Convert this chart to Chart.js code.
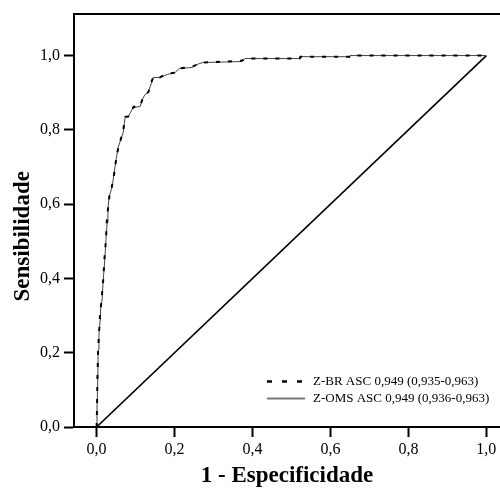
<!DOCTYPE html>
<html>
<head>
<meta charset="utf-8">
<script src="https://cdn.jsdelivr.net/npm/chart.js@4/dist/chart.umd.min.js"></script>
<style>
  html, body { margin: 0; padding: 0; background: #fff; }
  #wrap { width: 500px; height: 490px; }
</style>
</head>
<body>
<div id="wrap"><canvas id="c" width="500" height="490"></canvas></div>
<script>
// ---- data ----
const xTicks = [0, 0.2, 0.4, 0.6, 0.8, 1.0];
const xTickLabels = ['0,0', '0,2', '0,4', '0,6', '0,8', '1,0'];
const yTicks = [0, 0.2, 0.4, 0.6, 0.8, 1.0];
const yTickLabels = ['0,0', '0,2', '0,4', '0,6', '0,8', '1,0'];

const xTitle = '1 - Especificidade';
const yTitle = 'Sensibilidade';

const brLabel = 'Z-BR ASC 0,949 (0,935-0,963)';
const omsLabel = 'Z-OMS ASC 0,949 (0,936-0,963)';

// Z-OMS ROC (1 - specificity, sensitivity)
const omsFpr = [0, 0.001, 0.003, 0.004, 0.006, 0.009, 0.010, 0.014, 0.017, 0.021, 0.024, 0.027, 0.029, 0.032, 0.040, 0.045, 0.050, 0.055, 0.068, 0.073, 0.081, 0.094, 0.112, 0.117, 0.124, 0.132, 0.142, 0.145, 0.163, 0.181, 0.201, 0.212, 0.245, 0.258, 0.271, 0.373, 0.381, 0.522, 0.522, 0.650, 0.650, 1.0];
const omsTpr = [0, 0.046, 0.127, 0.208, 0.248, 0.288, 0.315, 0.342, 0.396, 0.450, 0.504, 0.550, 0.585, 0.620, 0.647, 0.685, 0.720, 0.752, 0.792, 0.833, 0.836, 0.860, 0.863, 0.881, 0.895, 0.900, 0.930, 0.941, 0.941, 0.949, 0.954, 0.965, 0.968, 0.976, 0.981, 0.984, 0.992, 0.992, 0.997, 0.997, 1.0, 1.0];

// Z-BR ROC
const brFpr = [0, 0.001, 0.002, 0.004, 0.006, 0.008, 0.010, 0.013, 0.017, 0.020, 0.024, 0.026, 0.029, 0.033, 0.039, 0.046, 0.050, 0.056, 0.067, 0.074, 0.081, 0.095, 0.111, 0.118, 0.124, 0.133, 0.141, 0.146, 0.162, 0.180, 0.202, 0.212, 0.244, 0.259, 0.270, 0.372, 0.382, 0.521, 0.523, 0.649, 0.651, 1.0];
const brTpr = [0, 0.046, 0.127, 0.210, 0.248, 0.290, 0.315, 0.345, 0.396, 0.452, 0.504, 0.552, 0.585, 0.622, 0.647, 0.687, 0.720, 0.754, 0.792, 0.835, 0.836, 0.862, 0.863, 0.883, 0.895, 0.902, 0.930, 0.943, 0.941, 0.951, 0.954, 0.965, 0.970, 0.976, 0.981, 0.986, 0.992, 0.992, 0.997, 0.997, 1.0, 1.0];

// reference (chance) diagonal
const diagX = [0, 1];
const diagY = [0, 1];

const xMin = -0.058, xMax = 1.035;
const yMin = 0, yMax = 1.113;

// ---- build ----
const toPts = (xs, ys) => xs.map((x, i) => ({x: x, y: ys[i]}));
const SERIF = '"Liberation Serif", "Times New Roman", serif';

const legendInside = {
  id: 'legendInside',
  afterDraw(chart) {
    const ctx = chart.ctx;
    const area = chart.chartArea;
    const x0 = area.left + 193, y0 = area.top + 368, rowH = 17;
    let row = 0;
    chart.data.datasets.forEach((ds) => {
      if (!ds.label) return;
      const y = y0 + row * rowH;
      ctx.save();
      ctx.strokeStyle = ds.legendColor || ds.borderColor;
      ctx.lineWidth = ds.legendWidth || ds.borderWidth;
      ctx.setLineDash(ds.legendDash || []);
      ctx.beginPath();
      ctx.moveTo(x0, y);
      ctx.lineTo(x0 + 38, y);
      ctx.stroke();
      ctx.setLineDash([]);
      ctx.fillStyle = '#000';
      ctx.font = '13px ' + SERIF;
      ctx.textBaseline = 'middle';
      ctx.textAlign = 'left';
      ctx.fillText(ds.label, x0 + 46, y);
      ctx.restore();
      row++;
    });
  }
};

// y-axis title, placed like the reference (slightly below the plot's centre)
const yTitlePlugin = {
  id: 'yTitlePlugin',
  afterDraw(chart) {
    const ctx = chart.ctx;
    const area = chart.chartArea;
    ctx.save();
    ctx.translate(23, area.top + (area.bottom - area.top) / 2 + 16);
    ctx.rotate(-Math.PI / 2);
    ctx.fillStyle = '#000';
    ctx.font = 'bold 23px ' + SERIF;
    ctx.textAlign = 'center';
    ctx.textBaseline = 'middle';
    ctx.fillText(yTitle, 0, 0);
    ctx.restore();
  }
};

new Chart(document.getElementById('c'), {
  type: 'scatter',
  data: {
    datasets: [
      {
        label: brLabel,
        data: toPts(brFpr, brTpr),
        showLine: true,
        borderColor: '#000',
        borderWidth: 2,
        borderDash: [4, 8],
        legendDash: [5, 10],
        legendWidth: 2.5,
        pointRadius: 0,
        fill: false,
        order: 1
      },
      {
        label: omsLabel,
        data: toPts(omsFpr, omsTpr),
        showLine: true,
        borderColor: '#444',
        borderWidth: 1,
        legendColor: '#777',
        legendWidth: 2,
        pointRadius: 0,
        fill: false,
        order: 2
      },
      {
        label: '',
        data: toPts(diagX, diagY),
        showLine: true,
        borderColor: '#000',
        borderWidth: 1.6,
        pointRadius: 0,
        fill: false,
        order: 3
      }
    ]
  },
  options: {
    responsive: false,
    animation: false,
    layout: { padding: 0 },
    plugins: {
      legend: { display: false },
      tooltip: { enabled: false }
    },
    scales: {
      x: {
        type: 'linear',
        position: 'bottom',
        min: xMin, max: xMax,
        afterBuildTicks(s) { s.ticks = xTicks.map(v => ({value: v})); },
        afterFit(s) { s.height = 63; },
        ticks: {
          color: '#000',
          padding: 3,
          maxRotation: 0,
          font: { family: SERIF, size: 16 },
          callback: (v, i) => xTickLabels[i]
        },
        grid: { drawOnChartArea: false, drawTicks: true, tickLength: 10, tickWidth: 2, color: '#000' },
        border: { display: true, color: '#000', width: 2 },
        title: {
          display: true, text: xTitle, color: '#000',
          padding: { top: 0, bottom: 0 },
          font: { family: SERIF, size: 23, weight: 'bold' }
        }
      },
      xTop: {
        type: 'linear',
        position: 'top',
        min: xMin, max: xMax,
        afterFit(s) { s.height = 13; },
        ticks: { display: false },
        grid: { display: false },
        border: { display: true, color: '#000', width: 2 }
      },
      y: {
        type: 'linear',
        position: 'left',
        min: yMin, max: yMax,
        afterBuildTicks(s) { s.ticks = yTicks.map(v => ({value: v})); },
        afterFit(s) { s.width = 74; },
        ticks: {
          color: '#000',
          padding: 4,
          font: { family: SERIF, size: 16 },
          callback: (v, i) => yTickLabels[i]
        },
        grid: { drawOnChartArea: false, drawTicks: true, tickLength: 10, tickWidth: 2, color: '#000' },
        border: { display: true, color: '#000', width: 2 },
        title: { display: false }
      }
    }
  },
  plugins: [legendInside, yTitlePlugin]
});
</script>
</body>
</html>
